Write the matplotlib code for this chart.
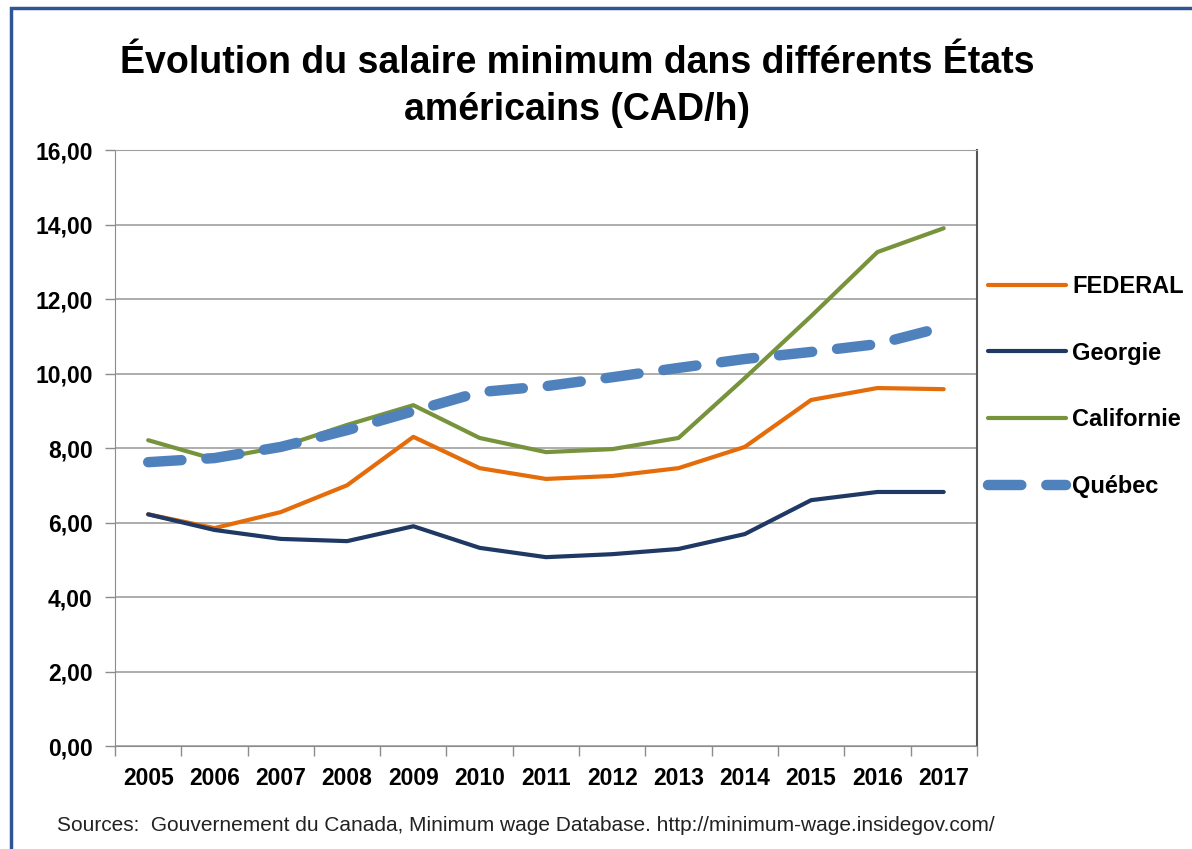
import matplotlib
matplotlib.use('Agg')
import matplotlib.pyplot as plt
from matplotlib.patches import Rectangle
from matplotlib.ticker import FuncFormatter, FixedLocator

plt.rcParams['font.family'] = ['Liberation Sans', 'DejaVu Sans']

years = ['2005', '2006', '2007', '2008', '2009', '2010', '2011',
         '2012', '2013', '2014', '2015', '2016', '2017']
federal = [6.22, 5.85, 6.28, 7.00, 8.30, 7.46, 7.17, 7.25, 7.46, 8.03, 9.29, 9.61, 9.58]
georgie = [6.22, 5.80, 5.56, 5.50, 5.90, 5.32, 5.07, 5.15, 5.29, 5.69, 6.60, 6.82, 6.82]
californie = [8.21, 7.70, 8.03, 8.62, 9.15, 8.27, 7.89, 7.97, 8.27, 9.88, 11.54, 13.26, 13.90]
quebec = [7.62, 7.73, 8.03, 8.48, 8.99, 9.50, 9.66, 9.90, 10.15, 10.39, 10.58, 10.79, 11.25]

title = "Évolution du salaire minimum dans différents États\naméricains (CAD/h)"
source = "Sources:  Gouvernement du Canada, Minimum wage Database. http://minimum-wage.insidegov.com/"

fig = plt.figure(figsize=(11.92, 8.49), dpi=100)
ax = fig.add_axes([0.0965, 0.1213, 0.723, 0.702])

x = list(range(len(years)))
ax.plot(x, federal, color='#E46C0A', lw=3, label='FEDERAL', solid_capstyle='round', zorder=3)
ax.plot(x, georgie, color='#1F3864', lw=3, label='Georgie', solid_capstyle='round', zorder=3)
ax.plot(x, californie, color='#77933C', lw=3, label='Californie', solid_capstyle='round', zorder=3)
ax.plot(x, quebec, color='#4F81BD', lw=7.5, ls=(0, (3.2, 2.4)), dash_capstyle='round',
        label='Québec', zorder=4)

ax.set_xlim(-0.5, len(years) - 0.5)
ax.set_ylim(0, 16)
ax.set_yticks(range(0, 17, 2))
ax.yaxis.set_major_formatter(FuncFormatter(lambda v, p: f"{v:.2f}".replace('.', ',')))
ax.set_xticks(x)
ax.set_xticklabels(years)
ax.xaxis.set_minor_locator(FixedLocator([i - 0.5 for i in range(len(years) + 1)]))
ax.tick_params(axis='x', which='major', length=0, pad=15, labelsize=16.5)
ax.tick_params(axis='x', which='minor', length=7, color='#8c8c8c', width=1)
ax.tick_params(axis='y', length=7, color='#8c8c8c', width=1, pad=9, labelsize=16.5)
for lab in ax.get_xticklabels() + ax.get_yticklabels():
    lab.set_fontweight('bold')

ax.grid(axis='y', color='#a0a0a0', lw=1.2, zorder=1)
ax.set_axisbelow(True)
ax.spines['left'].set_color('#8c8c8c')
ax.spines['bottom'].set_color('#8c8c8c')
ax.spines['top'].set_color('#a0a0a0')
ax.spines['right'].set_color('#555555')
ax.spines['right'].set_linewidth(1.5)

leg = ax.legend(loc='upper left', bbox_to_anchor=(0.829, 0.676), bbox_transform=fig.transFigure,
                frameon=False, handlelength=3.3, handletextpad=0.25, labelspacing=1.85,
                prop={'weight': 'bold', 'size': 17}, borderaxespad=0, borderpad=0)

fig.text(0.484, 0.898, title, ha='center', va='center', fontsize=27, fontweight='bold',
         linespacing=1.4)
fig.text(0.048, 0.028, source, ha='left', va='center', fontsize=15, color='#222222')

fig.patches.append(Rectangle((0.009, -0.1), 1.2, 1.091, transform=fig.transFigure,
                             fill=False, edgecolor='#2F5597', lw=2.5))

fig.savefig('out.png', dpi=100)
